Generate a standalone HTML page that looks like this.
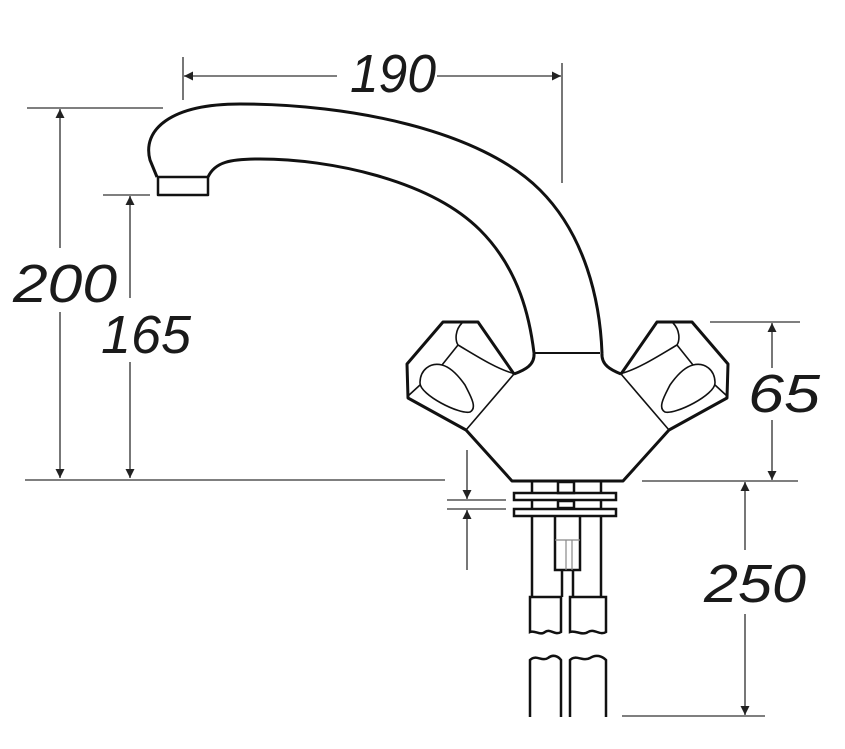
<!DOCTYPE html>
<html><head><meta charset="utf-8"><style>
html,body{margin:0;padding:0;background:#fff;width:845px;height:749px;overflow:hidden}
svg{display:block}
text{font-family:"Liberation Sans",sans-serif;font-style:italic;font-size:54px;fill:#1a1a1a}
</style></head><body>
<svg width="845" height="749" viewBox="0 0 845 749" xmlns="http://www.w3.org/2000/svg">
<defs>
<marker id="a" viewBox="0 0 10 10" refX="10" refY="5" markerWidth="20" markerHeight="9" markerUnits="userSpaceOnUse" orient="auto-start-reverse"><path d="M0,0 L10,5 L0,10 Z" fill="#222"/></marker>
</defs>
<g stroke="#555" stroke-width="1.6" fill="none">
<line x1="183" y1="57" x2="183" y2="100"/>
<line x1="562" y1="63" x2="562" y2="183"/>
<line x1="184" y1="76" x2="337" y2="76" marker-start="url(#a)"/>
<line x1="437" y1="76" x2="561" y2="76" marker-end="url(#a)"/>
<line x1="27" y1="108" x2="163" y2="108"/>
<line x1="60" y1="109" x2="60" y2="248" marker-start="url(#a)"/>
<line x1="60" y1="312" x2="60" y2="478" marker-end="url(#a)"/>
<line x1="103" y1="195" x2="150" y2="195"/>
<line x1="130" y1="196" x2="130" y2="298" marker-start="url(#a)"/>
<line x1="130" y1="362" x2="130" y2="478" marker-end="url(#a)"/>
<line x1="25" y1="480" x2="445" y2="480"/>
<line x1="710" y1="322" x2="800" y2="322"/>
<line x1="642" y1="481" x2="798" y2="481"/>
<line x1="772" y1="323" x2="772" y2="368" marker-start="url(#a)"/>
<line x1="772" y1="420" x2="772" y2="480" marker-end="url(#a)"/>
<line x1="745" y1="482" x2="745" y2="550" marker-start="url(#a)"/>
<line x1="745" y1="614" x2="745" y2="715" marker-end="url(#a)"/>
<line x1="622" y1="716" x2="765" y2="716"/>
<line x1="467" y1="450" x2="467" y2="499" marker-end="url(#a)"/>
<line x1="447" y1="500" x2="506" y2="500"/>
<line x1="447" y1="509" x2="506" y2="509"/>
<line x1="467" y1="570" x2="467" y2="510" marker-end="url(#a)"/>
</g>
<text x="350" y="92" textLength="86" lengthAdjust="spacingAndGlyphs">190</text>
<text x="13" y="302" textLength="104" lengthAdjust="spacingAndGlyphs">200</text>
<text x="101" y="353" textLength="90" lengthAdjust="spacingAndGlyphs">165</text>
<text x="748" y="412" textLength="72" lengthAdjust="spacingAndGlyphs">65</text>
<text x="704" y="602" textLength="102" lengthAdjust="spacingAndGlyphs">250</text>

<g stroke="#111" stroke-width="3" fill="none" stroke-linejoin="round">
<path d="M157,177 L150,160 C142,130 170,104 240,104 C350,104 480,130 540,190 C585,235 600,300 602,353"/>
<path d="M208,177 C215,162 230,159 260,159 C330,159 430,180 480,230 C520,270 530,320 534,353"/>
<rect x="158" y="177" width="50" height="18" stroke-width="2.5"/>
<line x1="535" y1="353" x2="600" y2="353" stroke-width="2"/>
<path d="M534,353 C535,365 525,370 514,374"/>
<path d="M602,353 C601,365 611,370 621,374"/>
<path d="M514,374 L478,322 L443,322 L407,364 L408,398 L466,430 L512,481 L623,481 L669,430 L727,398 L728,364 L692,322 L657,322 L621,374"/>
</g>
<g stroke="#111" stroke-width="1.6" fill="none">
<line x1="514" y1="374" x2="466" y2="430"/>
<line x1="621" y1="374" x2="669" y2="430"/>
<path d="M462,323 C455,330 455,340 458,345 C475,355 495,368 512,373"/>
<line x1="458" y1="345" x2="442" y2="365"/>
<path d="M442,365 C430,362 420,370 420,383 C420,395 460,415 470,412 C478,408 470,395 465,385 C458,375 450,367 442,365 Z"/>
<line x1="420" y1="385" x2="408" y2="396"/>
<path d="M673,323 C680,330 680,340 677,345 C660,355 640,368 623,373"/>
<line x1="677" y1="345" x2="693" y2="365"/>
<path d="M693,365 C705,362 715,370 715,383 C715,395 675,415 665,412 C657,408 665,395 670,385 C677,375 685,367 693,365 Z"/>
<line x1="715" y1="385" x2="727" y2="396"/>
</g>
<g stroke="#111" stroke-width="2.5" fill="none">
<line x1="532" y1="481" x2="532" y2="493"/><line x1="601" y1="481" x2="601" y2="493"/>
<rect x="558" y="482" width="16" height="11"/>
<rect x="514" y="493" width="102" height="7"/>
<line x1="532" y1="500" x2="532" y2="509"/><line x1="601" y1="500" x2="601" y2="509"/>
<rect x="558" y="501" width="16" height="7"/>
<rect x="514" y="509" width="102" height="7"/>
<line x1="532" y1="516" x2="532" y2="597"/><line x1="601" y1="516" x2="601" y2="597"/>
<path d="M555,516 L555,570 L580,570 L580,516"/>
<path d="M562,570 L562,597 M573,570 L573,597"/>
<path d="M530,597 L561,597 L561,632 C555,636 550,628 545,632 C540,636 535,630 530,632 Z"/>
<path d="M570,597 L606,597 L606,632 C600,636 594,628 588,632 C582,636 576,630 570,632 Z"/>
<path d="M530,717 L530,660 C536,654 542,662 548,658 C553,654 558,656 561,660 L561,717"/>
<path d="M570,717 L570,660 C576,654 583,662 590,658 C596,654 602,656 606,660 L606,717"/>
</g>
<g stroke="#888" stroke-width="1.2"><line x1="566" y1="540" x2="566" y2="570"/><line x1="572" y1="540" x2="572" y2="570"/><line x1="555" y1="540" x2="580" y2="540"/></g>
</svg>
</body></html>
